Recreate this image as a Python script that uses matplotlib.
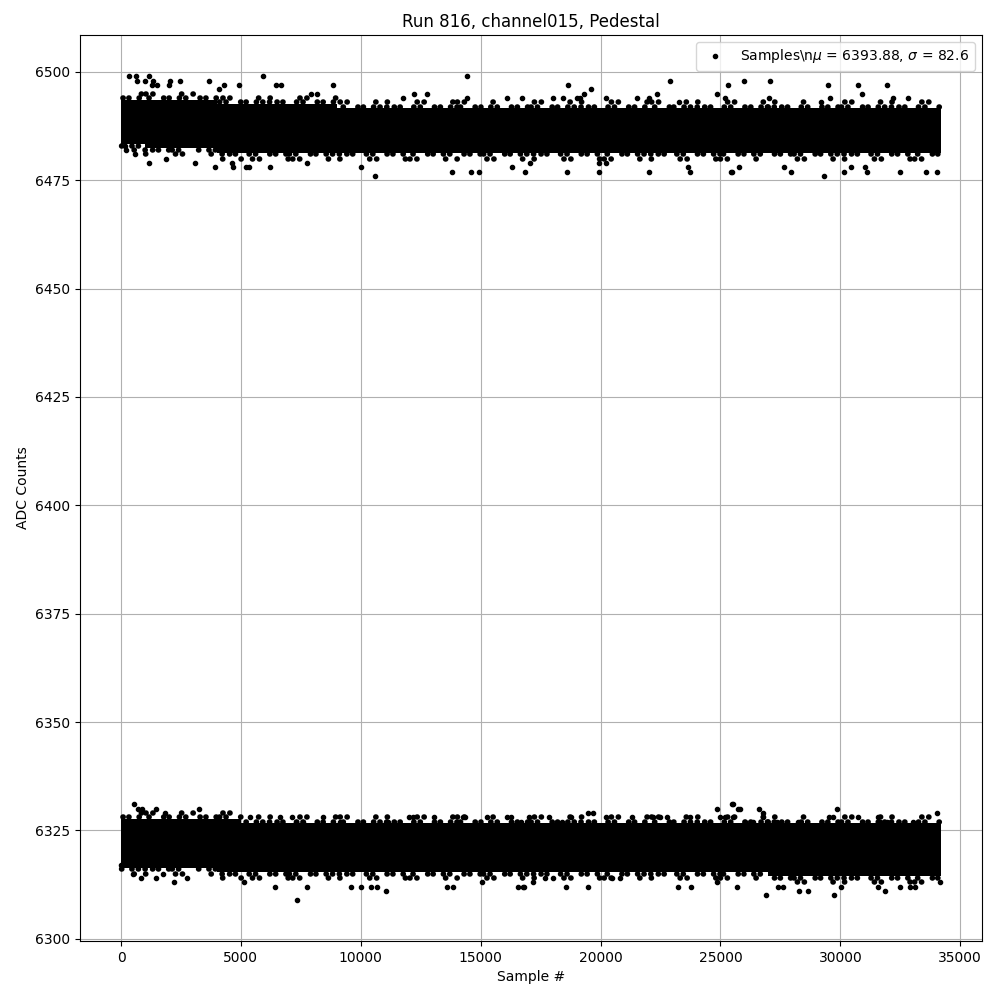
import numpy as np
import matplotlib
matplotlib.use("Agg")
import matplotlib.pyplot as plt

# ---- data ----
n_samples = 34200
block_size = 1000  # cloud extents are given per 1000-sample block (35 blocks)

# upper band: levels that are solidly filled (core) per block
upper_core_high = [6493, 6493, 6493, 6493, 6492, 6492, 6492, 6492, 6492, 6491,
                   6491, 6491, 6491, 6491, 6491, 6491, 6491, 6491, 6491, 6491,
                   6491, 6491, 6491, 6491, 6491, 6491, 6491, 6491, 6491, 6491,
                   6491, 6491, 6491, 6491, 6491]
upper_core_low = [6484, 6483, 6483, 6483, 6482, 6482, 6482, 6482, 6482, 6482,
                  6482, 6482, 6482, 6482, 6482, 6482, 6482, 6482, 6482, 6482,
                  6482, 6482, 6482, 6482, 6482, 6482, 6482, 6482, 6482, 6482,
                  6482, 6482, 6482, 6482, 6482]
# lower band core
lower_core_high = [6327, 6327, 6327, 6327, 6327, 6326, 6326, 6326, 6326, 6326,
                   6326, 6326, 6326, 6326, 6326, 6326, 6326, 6326, 6326, 6326,
                   6326, 6326, 6326, 6326, 6326, 6326, 6326, 6326, 6326, 6326,
                   6326, 6326, 6326, 6326, 6326]
lower_core_low = [6317, 6317, 6317, 6317, 6316, 6316, 6316, 6316, 6316, 6316,
                  6316, 6316, 6316, 6316, 6316, 6316, 6316, 6316, 6316, 6316,
                  6316, 6316, 6316, 6316, 6316, 6316, 6316, 6315, 6315, 6315,
                  6315, 6315, 6315, 6315, 6315]

# isolated samples outside the dense clouds (sample #, ADC)
outlier_x = [334, 613, 668, 989, 1168, 1335, 1310, 1502, 2032, 2003, 2450, 3672, 4090, 4298,
             4924, 5926, 6485, 6664,
             154, 225, 572, 1168, 1894, 3075, 3910, 4674, 4632, 5233, 5342, 6205, 7762,
             8821, 14413, 12769, 12227, 11742, 8180, 7945, 14413, 16108, 16709,
             10003, 10600, 13788, 14580, 14940, 16317, 16847,
             18628, 19600, 19310, 19143, 19003, 22897, 25330, 24871, 25200, 22367, 18027, 18419,
             20226, 21507, 22020, 23272,
             17055, 18586, 19946, 22033, 23732, 23660, 25443, 19930, 20220,
             25997, 27069, 29503, 30755, 30897, 31966, 32216, 32842, 27041, 29574, 29197,
             25789, 25472, 27667, 27946, 29336, 30171, 31106, 32496, 33568, 34052, 31050, 30460,
             # lower band
             543, 709, 893, 1448, 3242, 501, 822, 10, 1477, 1753, 2199, 2754, 5120, 6443, 7344, 7762,
             5400, 6622, 7136, 7300, 7600, 1824,
             8430, 9126, 11142, 11046, 12005, 12185, 13049, 13996, 14246, 14355, 15248, 16083,
             16262, 16667,
             9585, 10003, 10420, 10657, 11046, 13579, 13854, 15040, 16567, 16775,
             17013, 17847, 18766, 19489, 19671, 18378, 20214, 21299, 22200, 22480, 22759, 23732,
             24871, 25497, 25818, 24984, 25192, 25539,
             16817, 18545, 19463, 23244, 23761, 25706, 17193, 17681, 18027, 20464, 20811, 24846,
             25514, 25747, 26623, 26790, 26790, 29878, 29545, 29687, 30755, 31589, 31660, 34026,
             26027, 26374, 27350, 28251, 31966, 33050,
             26903, 27417, 27625, 28293, 28669, 29754, 30033, 31589, 31869, 32496, 32913, 33121,
             34164]
outlier_y = [6499, 6499, 6498, 6498, 6499, 6498, 6497, 6497, 6498, 6497, 6498, 6498, 6496, 6497,
             6497, 6499, 6497, 6497,
             6483, 6482, 6481, 6479, 6480, 6479, 6478, 6478, 6479, 6478, 6478, 6478, 6479,
             6497, 6499, 6495, 6495, 6494, 6495, 6495, 6494, 6494, 6494,
             6478, 6476, 6477, 6477, 6477, 6478, 6477,
             6497, 6496, 6495, 6494, 6494, 6498, 6497, 6495, 6494, 6495, 6494, 6494,
             6494, 6494, 6494, 6493,
             6479, 6477, 6477, 6477, 6477, 6478, 6477, 6479, 6479,
             6498, 6498, 6497, 6497, 6495, 6497, 6494, 6494, 6494, 6494, 6493,
             6478, 6477, 6478, 6477, 6476, 6477, 6477, 6477, 6477, 6477, 6478, 6478,
             # lower band
             6331, 6330, 6330, 6330, 6330, 6315, 6314, 6317, 6314, 6315, 6313, 6314, 6313, 6312, 6309, 6312,
             6328, 6328, 6328, 6327, 6327, 6329,
             6328, 6327, 6327, 6327, 6328, 6328, 6328, 6327, 6328, 6328, 6328, 6328,
             6328, 6327,
             6312, 6312, 6312, 6312, 6311, 6312, 6312, 6313, 6312, 6312,
             6328, 6328, 6328, 6329, 6329, 6327, 6328, 6328, 6328, 6328, 6328, 6328,
             6330, 6331, 6330, 6328, 6328, 6328,
             6312, 6312, 6312, 6312, 6312, 6312, 6313, 6314, 6314, 6314, 6314, 6313,
             6331, 6330, 6330, 6329, 6328, 6330, 6328, 6328, 6328, 6328, 6327, 6329,
             6327, 6327, 6327, 6327, 6327, 6327,
             6310, 6312, 6312, 6311, 6311, 6310, 6312, 6312, 6311, 6312, 6312, 6312,
             6313]

legend_label = r"Samples\n$\mu$ = 6393.88, $\sigma$ = 82.6"
title = "Run 816, channel015, Pedestal"

# ---- drawing ----
fig = plt.figure(figsize=(10, 10), dpi=100)
ax = fig.add_axes([0.08, 0.059, 0.902, 0.906])

n_blocks = len(upper_core_high)
edges = np.minimum(np.arange(n_blocks + 1) * block_size, n_samples - 1)
half = 0.62  # a sample dot's half-height in ADC units at this scale
dot_lw = 4.0  # same diameter (points) as the '.' marker incl. its edge

e = 0.05
dense_dash = (e, 1.05, e, 1.3, e, 1.0, e, 1.8, e, 1.1, e, 2.6, e, 1.0, e, 1.4)
sparse_dash = (e, 2.0, e, 1.2, e, 4.5, e, 3.0, e, 1.1, e, 6.0)


def draw_band(core_hi, core_lo):
    hi_s = np.append(core_hi, core_hi[-1]) + half
    lo_s = np.append(core_lo, core_lo[-1]) - half
    ax.fill_between(edges, lo_s, hi_s, step="post", color="black", linewidth=0,
                    zorder=2)
    # partially occupied levels just outside the solid core
    for i in range(n_blocks):
        x0, x1 = edges[i], edges[i + 1]
        for k, dash in ((1, dense_dash), (2, sparse_dash)):
            for j, lev in enumerate((core_hi[i] + k, core_lo[i] - k)):
                off = (i * 3.7 + k * 2.1 + j * 1.3) % 6.0
                ax.plot([x0, x1], [lev, lev], color="black", lw=dot_lw,
                        linestyle=(off, dash), dash_capstyle="round")


draw_band(upper_core_high, upper_core_low)
draw_band(lower_core_high, lower_core_low)

ax.plot(outlier_x, outlier_y, ".", color="black", linestyle="none", label=legend_label)

ax.set_xlim(-0.05 * (n_samples - 1), (n_samples - 1) * 1.05)
ax.set_ylim(6309 - 9.5, 6499 + 9.5)
ax.set_title(title)
ax.set_xlabel("Sample #")
ax.set_ylabel("ADC Counts")
ax.grid(True)
ax.legend(loc="upper right")

fig.savefig("out.png", dpi=100)
